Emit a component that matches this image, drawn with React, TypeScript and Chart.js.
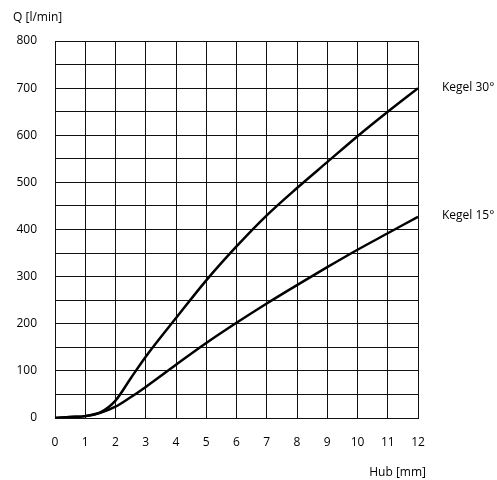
import React, { useEffect, useRef } from "react";
import { Chart, registerables } from "chart.js";

Chart.register(...registerables);

// Stroke in mm and the matching flow rate in l/min for both cone angles
const hubMm = [0, 0.5, 1, 1.5, 2, 2.5, 3, 4, 5, 6, 7, 8, 9, 10, 11, 12];
const kegel30 = [0, 2, 4, 12, 37, 84, 130, 212, 292, 364, 430, 488, 543, 598, 650, 700];
const kegel15 = [0, 2, 4, 11, 24, 44, 66, 113, 159, 202, 243, 282, 320, 357, 392, 427];
const seriesNames = ["Kegel 30°", "Kegel 15°"];

const yTitle = "Q [l/min]";
const xTitle = "Hub [mm]";

const FONT = "'Open Sans', 'DejaVu Sans', sans-serif";

const annotations = {
  id: "annotations",
  afterDraw(chart: any) {
    const { ctx, chartArea, scales } = chart;
    ctx.save();
    ctx.fillStyle = "#000";
    ctx.font = `12px ${FONT}`;
    ctx.textBaseline = "middle";
    ctx.textAlign = "left";
    ctx.fillText(yTitle, 13, 18);
    ctx.textAlign = "right";
    ctx.fillText(xTitle, 426, 473);
    ctx.textAlign = "left";
    chart.data.datasets.forEach((ds: any) => {
      const last = ds.data[ds.data.length - 1];
      const y = scales.y.getPixelForValue(last.y);
      ctx.fillText(ds.label, chartArea.right + 24, y - 1);
    });
    ctx.restore();
  },
};

export default function App() {
  const ref = useRef<HTMLCanvasElement | null>(null);

  useEffect(() => {
    if (!ref.current) return;
    const toPoints = (vals: number[]) => vals.map((v, i) => ({ x: hubMm[i], y: v }));
    const chart = new Chart(ref.current, {
      type: "line",
      data: {
        datasets: [
          {
            label: seriesNames[0],
            data: toPoints(kegel30),
            borderColor: "#000",
            borderWidth: 2.5,
            pointRadius: 0,
            cubicInterpolationMode: "monotone",
            fill: false,
          },
          {
            label: seriesNames[1],
            data: toPoints(kegel15),
            borderColor: "#000",
            borderWidth: 2.5,
            pointRadius: 0,
            cubicInterpolationMode: "monotone",
            fill: false,
          },
        ],
      },
      options: {
        responsive: false,
        animation: false,
        layout: { padding: { left: 0, right: 79, top: 41, bottom: 0 } },
        plugins: {
          legend: { display: false },
          tooltip: { enabled: false },
          title: { display: false },
        },
        scales: {
          x: {
            type: "linear",
            min: 0,
            max: 12,
            afterFit: (s: any) => {
              s.height = 62;
            },
            ticks: {
              stepSize: 1,
              color: "#000",
              font: { family: FONT, size: 12 },
              padding: 17,
              maxRotation: 0,
            },
            grid: { color: "#111", lineWidth: 1, drawTicks: false },
            border: { display: true, color: "#111", width: 1 },
          },
          y: {
            type: "linear",
            min: 0,
            max: 800,
            afterFit: (s: any) => {
              s.width = 55;
            },
            ticks: {
              stepSize: 50,
              color: "#000",
              font: { family: FONT, size: 12 },
              padding: 18,
              callback: (v: any) => (Number(v) % 100 === 0 ? String(v) : ""),
            },
            grid: { color: "#111", lineWidth: 1, drawTicks: false },
            border: { display: true, color: "#111", width: 1 },
          },
        },
      },
      plugins: [annotations],
    } as any);
    return () => chart.destroy();
  }, []);

  return (
    <div style={{ position: "absolute", left: 0, top: 0, width: 497, height: 480, background: "#fff" }}>
      <canvas ref={ref} width={497} height={480} />
    </div>
  );
}
